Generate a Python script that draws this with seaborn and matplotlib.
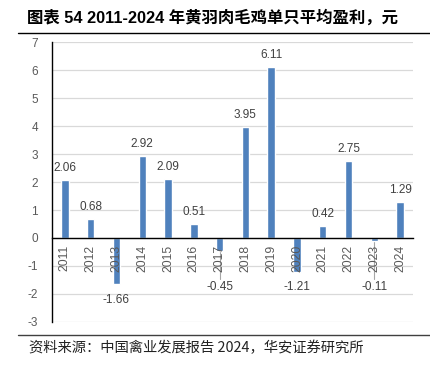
import matplotlib
matplotlib.use("Agg")
import matplotlib.pyplot as plt
import seaborn as sns
import pandas as pd
from matplotlib.lines import Line2D

years = ["2011", "2012", "2013", "2014", "2015", "2016", "2017",
         "2018", "2019", "2020", "2021", "2022", "2023", "2024"]
profit = [2.06, 0.68, -1.66, 2.92, 2.09, 0.51, -0.45,
          3.95, 6.11, -1.21, 0.42, 2.75, -0.11, 1.29]
yticks = list(range(-3, 8))

title = "图表 54 2011-2024 年黄羽肉毛鸡单只平均盈利，元"
source = "资料来源：中国禽业发展报告 2024，华安证券研究所"

sns.set_theme(style="white")
plt.rcParams["font.family"] = ["Liberation Sans", "Noto Sans CJK SC", "DejaVu Sans"]

df = pd.DataFrame({"year": years, "profit": profit})

fig = plt.figure(figsize=(4.3, 3.65), dpi=100)
fig.patch.set_facecolor("white")
W, H = 430, 365
ax = fig.add_axes([52 / W, 1 - 322 / H, (413 - 52) / W, (322 - 42) / H])

for t in yticks:
    ax.axhline(t, color="#D9D9D9", linewidth=0.9, zorder=0)

sns.barplot(data=df, x="year", y="profit", color="#4F81BD", saturation=1,
            width=0.29, ax=ax, order=years, zorder=1)

ax.set_axisbelow(False)
ax.set_ylim(-3, 7)
ax.set_xlim(-0.5, len(years) - 0.5)
ax.set_yticks(yticks)
ax.set_yticklabels([str(t) for t in yticks])
ax.set_xlabel("")
ax.set_ylabel("")
ax.grid(False)
for s in ["top", "right"]:
    ax.spines[s].set_visible(False)
ax.spines["left"].set_color("black")
ax.spines["left"].set_linewidth(1.0)
ax.spines["bottom"].set_position(("data", 0))
ax.spines["bottom"].set_color("black")
ax.spines["bottom"].set_linewidth(1.0)
ax.tick_params(axis="y", length=0, pad=10, labelsize=8.5, labelcolor="#595959")
ax.tick_params(axis="x", length=0, pad=5, labelsize=8.7, labelcolor="#595959",
               labelrotation=90)
for lab in ax.get_xticklabels():
    lab.set_va("top")

for i, v in enumerate(profit):
    if v >= 0:
        ax.text(i, v + 0.22, f"{v:.2f}", ha="center", va="bottom",
                fontsize=8.5, color="#404040")
    else:
        y = min(v, -1.2) - 0.55
        ax.text(i, y, f"{v:.2f}", ha="center", va="center",
                fontsize=8.5, color="#404040")
        if v - y > 1.0:
            ax.plot([i, i], [v, y + 0.3], color="#A6A6A6", linewidth=0.8,
                    zorder=0.5)

fig.text(27 / W, 1 - 17 / H, title, ha="left", va="center", fontsize=11.8,
         fontweight="bold", color="black",
         family=["Liberation Sans", "Noto Sans CJK SC"])
fig.add_artist(Line2D([18 / W, 1.0], [1 - 32.5 / H] * 2, color="black",
                      linewidth=1.0, transform=fig.transFigure))
fig.add_artist(Line2D([18 / W, 1.0], [1 - 335 / H] * 2, color="#404040",
                      linewidth=1.0, transform=fig.transFigure))
fig.text(29 / W, 1 - 348 / H, source, ha="left", va="center", fontsize=10.3,
         color="#222222", family=["Noto Sans CJK SC", "DejaVu Sans"])

fig.savefig("out.png", dpi=100, facecolor="white")
